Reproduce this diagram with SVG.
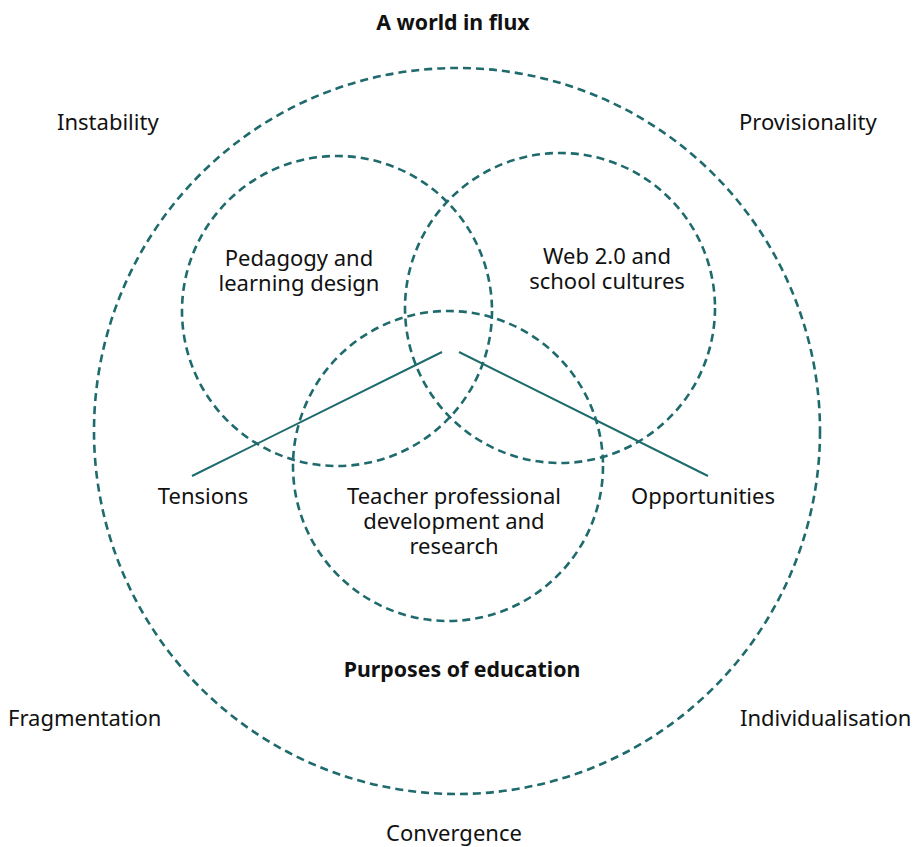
<svg xmlns="http://www.w3.org/2000/svg" width="917" height="847" viewBox="0 0 917 847">
<style>
.c{fill:none;stroke:#1f6a6c;stroke-width:2.6;stroke-dasharray:8 5}
.l{fill:none;stroke:#1f6a6c;stroke-width:2}
text{font-family:"Noto Sans","Open Sans",sans-serif;font-size:22px;fill:#111}
.b{font-weight:bold;font-size:21.3px}
.m{text-anchor:middle}
</style>
<rect width="917" height="847" fill="#fff"/>
<g id="outer">
<circle class="c" cx="457" cy="431" r="363"/>
<text class="b m" x="453" y="30">A world in flux</text>
<text x="57" y="130">Instability</text>
<text x="739" y="130">Provisionality</text>
<text x="8" y="726">Fragmentation</text>
<text x="740" y="726">Individualisation</text>
<text class="m" x="454" y="841">Convergence</text>
<text class="b m" x="462" y="677">Purposes of education</text>
</g>
<g id="pedagogy">
<circle class="c" cx="337" cy="311" r="155"/>
<text class="m" x="299" y="266">Pedagogy and</text>
<text class="m" x="299" y="291">learning design</text>
</g>
<g id="web">
<circle class="c" cx="560" cy="308" r="155"/>
<text class="m" x="607" y="264">Web 2.0 and</text>
<text class="m" x="607" y="289">school cultures</text>
</g>
<g id="teacher">
<circle class="c" cx="448" cy="466" r="155"/>
<text class="m" x="454" y="504">Teacher professional</text>
<text class="m" x="454" y="529">development and</text>
<text class="m" x="454" y="554">research</text>
</g>
<g id="connectors">
<line class="l" x1="192" y1="476" x2="442" y2="352"/>
<line class="l" x1="459" y1="352" x2="708" y2="476"/>
</g>
<g id="tensions"><text class="m" x="203" y="504">Tensions</text></g>
<g id="opportunities"><text class="m" x="703" y="504">Opportunities</text></g>
</svg>
